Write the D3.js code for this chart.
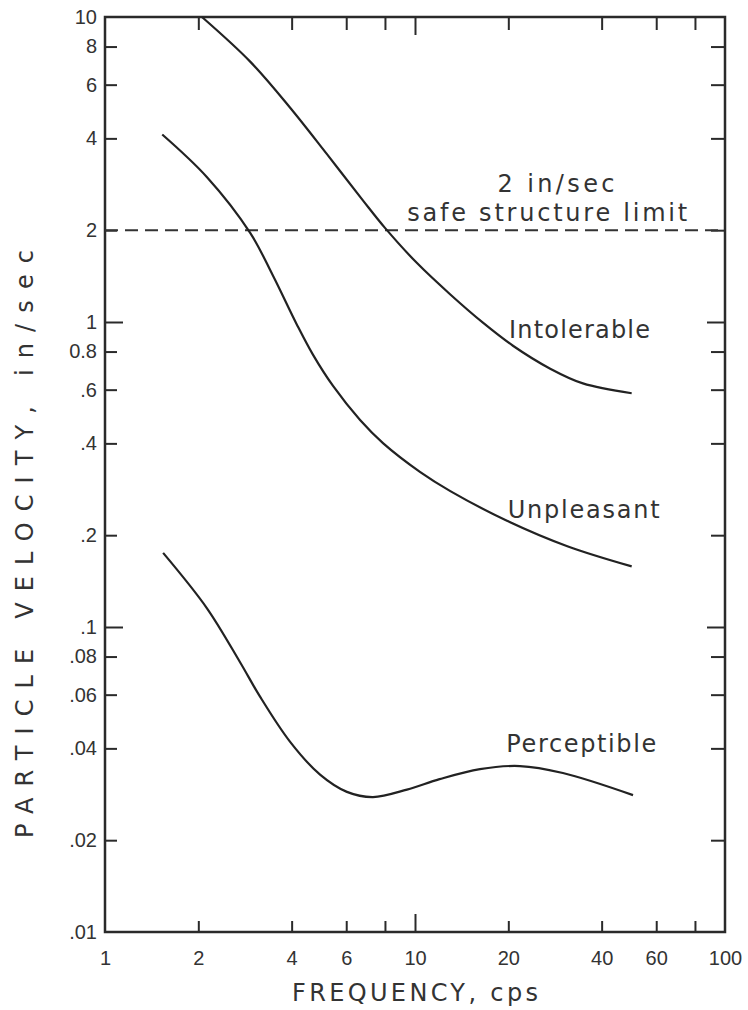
<!DOCTYPE html>
<html lang="en">
  <head>
    <meta charset="utf-8">
    <title>Particle velocity vs frequency</title>
    <style>
      body { margin: 0; background: #fff; }
      svg { display: block; font-family: "DejaVu Sans", sans-serif; }
      .tick line { stroke: #2a2a2a; stroke-width: 2; }
      .tick text { fill: #333; font-size: 20px; }
    </style>
  </head>

  <body>
    <script src="https://cdn.jsdelivr.net/npm/d3@7"></script>
    <script>

    // frequency (cps) vs particle velocity (in/sec)
    var intolerable = [[2.055, 10], [2.94, 7.14], [3.95, 5.05], [5.2, 3.55], [6.8, 2.5], [8, 2.035],
      [10.15, 1.56], [13, 1.231], [16.6, 0.993], [20.7, 0.836], [27.3, 0.703], [34.8, 0.629], [50, 0.584]];
    var unpleasant = [[1.53, 4.12], [2.13, 2.99], [2.94, 1.96], [3.48, 1.42], [4.16, 0.98], [4.69, 0.78],
      [5.44, 0.617], [6.65, 0.477], [7.9, 0.40], [10.4, 0.322], [13, 0.279], [19.8, 0.223], [31, 0.184], [50, 0.158]];
    var perceptible = [[1.54, 0.175], [2.13, 0.1154], [2.73, 0.0765], [3.16, 0.0592], [3.95, 0.0421],
      [4.94, 0.0328], [6.03, 0.0288], [7.32, 0.0277], [9.42, 0.0293], [12, 0.0317], [16.2, 0.0342],
      [21.8, 0.035], [30, 0.0332], [50.5, 0.0281]];
    var safeLimit = 2;

    var xTicks = [2, 4, 6, 8, 10, 20, 40, 60, 80];
    var xLabels = [1, 2, 4, 6, 10, 20, 40, 60, 100];
    var yTicks = [0.02, 0.04, 0.06, 0.08, 0.1, 0.2, 0.4, 0.6, 0.8, 1, 2, 4, 6, 8];
    var yLabelValues = [10, 8, 6, 4, 2, 1, 0.8, 0.6, 0.4, 0.2, 0.1, 0.08, 0.06, 0.04, 0.02, 0.01];
    var yLabelText = ["10", "8", "6", "4", "2", "1", "0.8", ".6", ".4", ".2", ".1", ".08", ".06", ".04", ".02", ".01"];

    var W = 748, H = 1010,
        plotL = 105, plotR = 725, plotT = 17, plotB = 932;

    var x = d3.scaleLog().domain([1, 100]).range([plotL, plotR]),
        y = d3.scaleLog().domain([0.01, 10]).range([plotB, plotT]);

    var svg = d3.select("body").append("svg")
        .attr("width", W)
        .attr("height", H);

    svg.append("rect").attr("width", W).attr("height", H).attr("fill", "#fff");

    function isMajor(d) { return Math.abs(Math.log10(d) - Math.round(Math.log10(d))) < 1e-9; }
    function lengthen(sel, attr, sign) {
      sel.selectAll(".tick line").filter(isMajor).attr(attr, sign * 18);
    }

    // inward ticks on all four sides
    svg.append("g").attr("transform", "translate(0," + plotB + ")")
        .call(d3.axisBottom(x).tickValues(xTicks).tickSize(-11).tickFormat(""))
        .call(function(g) { g.select(".domain").remove(); lengthen(g, "y2", -1); });
    svg.append("g").attr("transform", "translate(0," + plotT + ")")
        .call(d3.axisTop(x).tickValues(xTicks).tickSize(-13).tickFormat(""))
        .call(function(g) { g.select(".domain").remove(); lengthen(g, "y2", 1); });
    svg.append("g").attr("transform", "translate(" + plotL + ",0)")
        .call(d3.axisLeft(y).tickValues(yTicks).tickSize(-12).tickFormat(""))
        .call(function(g) { g.select(".domain").remove(); lengthen(g, "x2", 1); });
    svg.append("g").attr("transform", "translate(" + plotR + ",0)")
        .call(d3.axisRight(y).tickValues(yTicks).tickSize(-14).tickFormat(""))
        .call(function(g) { g.select(".domain").remove(); lengthen(g, "x2", -1); });

    // tick labels
    svg.append("g").attr("transform", "translate(0," + plotB + ")")
        .call(d3.axisBottom(x).tickValues(xLabels).tickSize(0).tickPadding(19).tickFormat(d3.format("d")))
        .call(function(g) { g.select(".domain").remove(); });
    svg.append("g").attr("transform", "translate(" + plotL + ",0)")
        .call(d3.axisLeft(y).tickValues(yLabelValues).tickSize(0).tickPadding(8)
          .tickFormat(function(d, i) { return yLabelText[i]; }))
        .call(function(g) { g.select(".domain").remove(); });

    // frame
    svg.append("rect")
        .attr("x", plotL).attr("y", plotT)
        .attr("width", plotR - plotL).attr("height", plotB - plotT)
        .attr("fill", "none").attr("stroke", "#2a2a2a").attr("stroke-width", 2.5);

    // safe structure limit
    svg.append("line")
        .attr("x1", x(1)).attr("x2", x(100))
        .attr("y1", y(safeLimit)).attr("y2", y(safeLimit))
        .attr("stroke", "#333").attr("stroke-width", 2)
        .attr("stroke-dasharray", "13,7");

    var line = d3.line()
        .x(function(d) { return x(d[0]); })
        .y(function(d) { return y(d[1]); })
        .curve(d3.curveCatmullRom.alpha(0.5));

    svg.selectAll(".curve")
        .data([intolerable, unpleasant, perceptible])
      .enter().append("path")
        .attr("class", "curve")
        .attr("d", line)
        .attr("fill", "none")
        .attr("stroke", "#222")
        .attr("stroke-width", 2.2);

    // annotations, placed in data coordinates
    var notes = [
      {t: "2 in/sec", f: 28.5, v: 2.67, w: 117, a: "middle"},
      {t: "safe structure limit", f: 26.7, v: 2.14, w: 280, a: "middle"},
      {t: "Intolerable", f: 20.1, v: 0.886, w: 141, a: "start"},
      {t: "Unpleasant", f: 19.9, v: 0.228, w: 152, a: "start"},
      {t: "Perceptible", f: 19.7, v: 0.039, w: 150, a: "start"}
    ];
    svg.selectAll(".note")
        .data(notes)
      .enter().append("text")
        .attr("class", "note")
        .attr("x", function(d) { return x(d.f); })
        .attr("y", function(d) { return y(d.v); })
        .attr("text-anchor", function(d) { return d.a; })
        .attr("textLength", function(d) { return d.w; })
        .attr("lengthAdjust", "spacing")
        .attr("font-size", 24)
        .attr("fill", "#333")
        .text(function(d) { return d.t; });

    // axis titles
    svg.append("text")
        .attr("x", 415).attr("y", 1001)
        .attr("text-anchor", "middle")
        .attr("font-size", 24).attr("fill", "#333")
        .attr("textLength", 246).attr("lengthAdjust", "spacing")
        .text("FREQUENCY, cps");

    svg.append("text")
        .attr("transform", "translate(33,544)rotate(-90)")
        .attr("text-anchor", "middle")
        .attr("font-size", 24).attr("fill", "#333")
        .attr("textLength", 588).attr("lengthAdjust", "spacing")
        .text("PARTICLE VELOCITY, in/sec");

    </script>
  </body>
</html>
